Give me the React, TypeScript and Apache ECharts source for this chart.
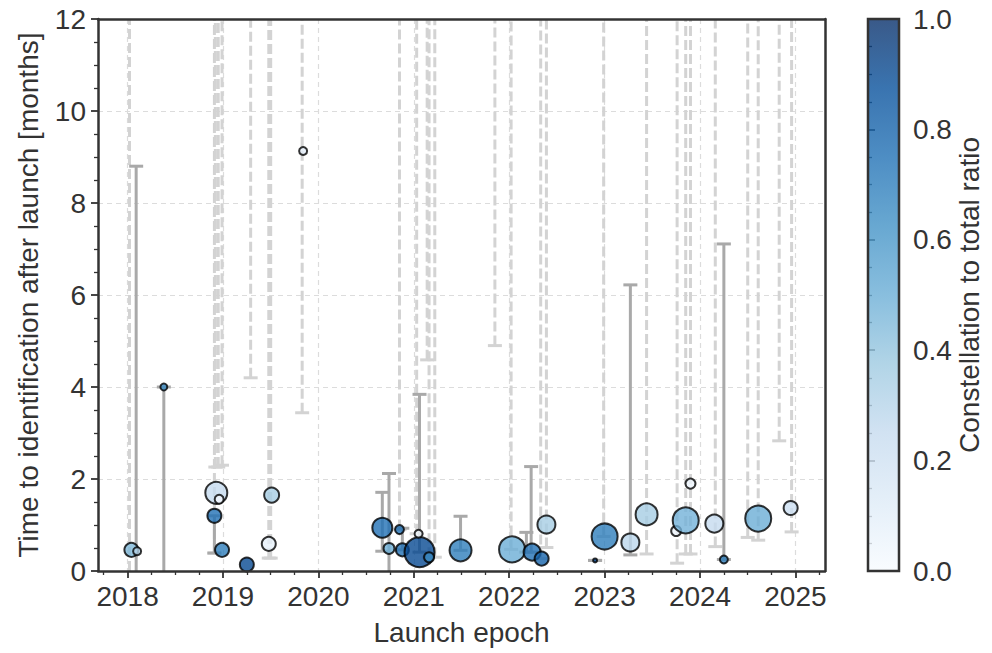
import React, { useEffect, useRef } from 'react';
import * as echarts from 'echarts';

// ---------- data ----------
const yearTicks = [2018, 2019, 2020, 2021, 2022, 2023, 2024, 2025];
const xMin = 2017.69;
const xMax = 2025.31;
const yMax = 12;

const launchEpoch = [2018.04, 2018.10, 2018.38, 2018.93, 2018.96, 2018.91, 2018.99, 2019.25, 2019.51, 2019.48, 2019.84,
  2020.67, 2020.74, 2020.85, 2020.88, 2021.06, 2021.05, 2021.16, 2021.49, 2022.03, 2022.24, 2022.34, 2022.39,
  2022.90, 2023.00, 2023.27, 2023.44, 2023.75, 2023.85, 2023.90, 2024.15, 2024.25, 2024.61, 2024.95];
const monthsToId = [0.46, 0.43, 4.00, 1.70, 1.56, 1.20, 0.46, 0.14, 1.65, 0.59, 9.13,
  0.94, 0.49, 0.90, 0.46, 0.41, 0.81, 0.30, 0.45, 0.47, 0.41, 0.27, 1.01,
  0.23, 0.75, 0.62, 1.23, 0.87, 1.10, 1.90, 1.03, 0.25, 1.14, 1.37];
const constellationRatio = [0.45, 0.30, 0.65, 0.25, 0.02, 0.75, 0.70, 0.90, 0.35, 0.08, 0.10,
  0.75, 0.50, 0.75, 0.75, 0.90, 0.03, 0.65, 0.70, 0.50, 0.75, 0.80, 0.35,
  0.90, 0.70, 0.28, 0.35, 0.05, 0.48, 0.05, 0.25, 0.70, 0.50, 0.22];
const objectCount = [49, 16, 12, 121, 20, 49, 49, 49, 56, 49, 16,
  100, 30, 20, 42, 225, 16, 25, 121, 169, 72, 49, 81,
  4, 169, 81, 121, 25, 169, 25, 81, 16, 169, 49];

// open-ended (lower bound only) ranges
const openX = [2018.02, 2018.91, 2018.92, 2018.95, 2018.99, 2019.29, 2019.48, 2019.50, 2019.83,
  2020.85, 2021.03, 2021.14, 2021.16, 2021.22, 2021.85, 2022.02, 2022.33, 2022.39,
  2022.99, 2023.44, 2023.76, 2023.85, 2023.90, 2024.16, 2024.50, 2024.61, 2024.83, 2024.96];
const openLow = [-0.5, 0.39, 2.26, 2.26, 2.30, 4.20, 0.28, 0.28, 3.44,
  0.90, 0.81, 4.59, 0.30, 0.30, 4.90, 0.47, 0.27, 0.51,
  0.75, 0.37, 0.17, 0.37, 0.37, 0.53, 0.73, 0.67, 2.83, 0.85];

// closed ranges
const rangeX = [2018.09, 2018.38, 2018.91, 2020.67, 2020.74, 2020.88, 2021.06, 2021.49, 2022.18, 2022.23, 2022.90, 2023.27, 2024.25];
const rangeLow = [-0.5, -0.5, 0.39, 0.43, -0.5, 0.46, 0.41, 0.45, 0.41, 0.41, 0.23, 0.35, 0.25];
const rangeHigh = [8.80, 4.00, 1.20, 1.71, 2.12, 0.93, 3.84, 1.19, 0.84, 2.27, 0.23, 6.22, 7.11];

const blues = ['#f7fbff', '#deebf7', '#c6dbef', '#9ecae1', '#6baed6', '#4292c6', '#2171b5', '#08519c', '#08306b'];

// ---------- styling ----------
const FONT = 'Liberation Sans, Arial, Helvetica, sans-serif';
const TXT = '#333333';
const FS = 28;
const SPINE = '#333333';

function barRenderer(color: string, dash: number[] | null) {
  return (params: any, api: any) => {
    const x = api.value(0);
    const lo = api.value(1);
    const hiRaw = api.value(2);
    const hi = Math.min(hiRaw, yMax);
    const loC = Math.max(lo, 0);
    const p0 = api.coord([x, loC]);
    const p1 = api.coord([x, hi]);
    const capHalf = 7;
    const children: any[] = [
      {
        type: 'line',
        shape: { x1: p0[0], y1: p0[1], x2: p1[0], y2: p1[1] },
        style: { stroke: color, lineWidth: 3, lineDash: dash || undefined },
      },
    ];
    if (lo >= 0) {
      children.push({
        type: 'line',
        shape: { x1: p0[0] - capHalf, y1: p0[1], x2: p0[0] + capHalf, y2: p0[1] },
        style: { stroke: color, lineWidth: 3 },
      });
    }
    if (hiRaw <= yMax) {
      children.push({
        type: 'line',
        shape: { x1: p1[0] - capHalf, y1: p1[1], x2: p1[0] + capHalf, y2: p1[1] },
        style: { stroke: color, lineWidth: 3 },
      });
    }
    return { type: 'group', children };
  };
}

function spineAxis(kind: 'x' | 'y', position: string, gridIndex: number, min: number, max: number): any {
  return {
    gridIndex,
    type: 'value',
    position,
    min,
    max,
    z: 20,
    silent: true,
    axisLine: { show: true, onZero: false, lineStyle: { color: SPINE, width: 2.5 } },
    axisTick: { show: false },
    axisLabel: { show: false },
    splitLine: { show: false },
  };
}

function buildOption(): any {
  const minorX: number[] = [];
  for (let y = yearTicks[0] - 1; y <= yearTicks[yearTicks.length - 1]; y++) {
    for (let q = 1; q < 4; q++) {
      const v = y + q * 0.25;
      if (v > xMin && v < xMax) minorX.push(v);
    }
  }
  const openData = openX.map((x, i) => [x, openLow[i], 99]);
  const rangeData = rangeX.map((x, i) => [x, rangeLow[i], rangeHigh[i]]);
  const pts = launchEpoch.map((x, i) => [x, monthsToId[i], constellationRatio[i], objectCount[i]]);

  const gradStops = blues.map((c, i) => ({ offset: i / (blues.length - 1), color: c }));

  return {
    animation: false,
    backgroundColor: '#ffffff',
    textStyle: { fontFamily: FONT, color: TXT },
    grid: [
      { left: 98, top: 19, width: 727, height: 552 },
      { left: 868, top: 19, width: 31, height: 552 },
    ],
    xAxis: [
      {
        gridIndex: 0,
        type: 'value',
        position: 'bottom',
        min: xMin,
        max: xMax,
        splitNumber: 7,
        name: 'Launch epoch',
        nameLocation: 'middle',
        nameGap: 47,
        nameTextStyle: { fontSize: FS, color: TXT, fontFamily: FONT },
        axisLine: { show: false },
        axisTick: { show: true, customValues: yearTicks, length: 7, lineStyle: { color: SPINE, width: 1.8 } },
        axisLabel: {
          show: true,
          customValues: yearTicks,
          formatter: (v: number) => String(Math.round(v)),
          fontSize: FS,
          color: TXT,
          fontFamily: FONT,
          margin: 11,
        },
        splitLine: { show: true, lineStyle: { color: '#dcdcdc', width: 1.2, type: [5, 4] } },
      },
      {
        gridIndex: 0,
        type: 'value',
        position: 'bottom',
        min: xMin,
        max: xMax,
        axisLine: { show: false },
        axisTick: { show: true, customValues: minorX, length: 4, lineStyle: { color: SPINE, width: 1.3 } },
        axisLabel: { show: false },
        splitLine: { show: false },
      },
      { gridIndex: 1, type: 'value', min: 0, max: 1, show: false },
      spineAxis('x', 'bottom', 0, xMin, xMax),
      spineAxis('x', 'top', 0, xMin, xMax),
    ],
    yAxis: [
      {
        gridIndex: 0,
        type: 'value',
        position: 'left',
        min: 0,
        max: yMax,
        interval: 2,
        name: 'Time to identification after launch [months]',
        nameLocation: 'middle',
        nameGap: 56,
        nameTextStyle: { fontSize: FS, color: TXT, fontFamily: FONT },
        axisLine: { show: false },
        axisTick: { show: true, length: 7, lineStyle: { color: SPINE, width: 1.8 } },
        minorTick: { show: true, splitNumber: 4, length: 4, lineStyle: { color: SPINE, width: 1.3 } },
        axisLabel: { fontSize: FS, color: TXT, fontFamily: FONT, margin: 12 },
        splitLine: { show: true, lineStyle: { color: '#dcdcdc', width: 1.2, type: [5, 4] } },
      },
      {
        gridIndex: 1,
        type: 'value',
        position: 'right',
        min: 0,
        max: 1,
        interval: 0.2,
        name: 'Constellation to total ratio',
        nameLocation: 'middle',
        nameRotate: 90,
        nameGap: 56,
        nameTextStyle: { fontSize: FS, color: TXT, fontFamily: FONT },
        axisLine: { show: false },
        axisTick: { show: true, length: 7, lineStyle: { color: SPINE, width: 1.8 } },
        minorTick: { show: true, splitNumber: 4, length: 4, lineStyle: { color: SPINE, width: 1.3 } },
        axisLabel: { fontSize: FS, color: TXT, fontFamily: FONT, margin: 14, formatter: (v: number) => v.toFixed(1) },
        splitLine: { show: false },
      },
      spineAxis('y', 'left', 0, 0, yMax),
      spineAxis('y', 'right', 0, 0, yMax),
    ],
    visualMap: {
      type: 'continuous',
      show: false,
      min: 0,
      max: 1,
      dimension: 2,
      seriesIndex: 2,
      inRange: { color: blues },
    },
    series: [
      {
        type: 'custom',
        name: 'open',
        xAxisIndex: 0,
        yAxisIndex: 0,
        silent: true,
        z: 2,
        renderItem: barRenderer('#d3d3d3', [10, 4]),
        data: openData,
      },
      {
        type: 'custom',
        name: 'range',
        xAxisIndex: 0,
        yAxisIndex: 0,
        silent: true,
        z: 3,
        renderItem: barRenderer('#a9a9a9', null),
        data: rangeData,
      },
      {
        type: 'scatter',
        name: 'objects',
        xAxisIndex: 0,
        yAxisIndex: 0,
        z: 4,
        silent: true,
        data: pts,
        symbolSize: (v: number[]) => 2 * Math.sqrt(v[3]),
        itemStyle: { opacity: 0.8, borderColor: '#000', borderWidth: 2 },
      },
      {
        type: 'custom',
        name: 'colorbar',
        xAxisIndex: 2,
        yAxisIndex: 1,
        silent: true,
        data: [[0, 0]],
        renderItem: (params: any, api: any) => {
          const p0 = api.coord([0, 0]);
          const p1 = api.coord([1, 1]);
          const x = p0[0];
          const y = p1[1];
          const w = p1[0] - p0[0];
          const h = p0[1] - p1[1];
          return {
            type: 'group',
            children: [
              {
                type: 'rect',
                shape: { x, y, width: w, height: h },
                style: { fill: new echarts.graphic.LinearGradient(0, 1, 0, 0, gradStops), opacity: 0.8 },
              },
              {
                type: 'rect',
                shape: { x, y, width: w, height: h },
                style: { fill: 'none', stroke: SPINE, lineWidth: 2.5 },
              },
            ],
          };
        },
      },
    ],
  };
}

export default function App() {
  const ref = useRef<HTMLDivElement>(null);
  useEffect(() => {
    if (!ref.current) return;
    const chart = echarts.init(ref.current, null, { renderer: 'svg' });
    chart.setOption(buildOption());
    return () => chart.dispose();
  }, []);
  return <div ref={ref} style={{ position: 'fixed', left: 0, top: 0, width: 992, height: 653 }} />;
}
